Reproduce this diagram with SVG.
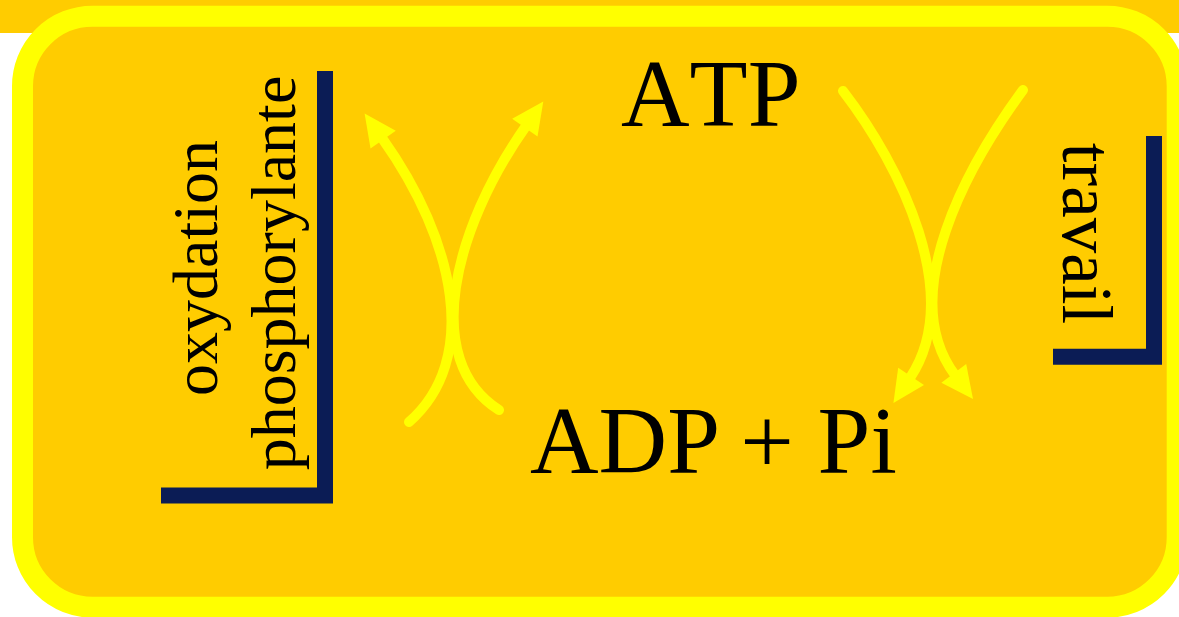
<svg xmlns="http://www.w3.org/2000/svg" width="1179" height="617" viewBox="0 0 1179 617">
<style>
.lbl{font-family:"Liberation Serif","Times New Roman",serif;fill:#000;font-kerning:none;font-feature-settings:"kern" 0}
.kern{font-kerning:normal;font-feature-settings:"kern" 1}
.arc{fill:none;stroke:#ffff00;stroke-width:10;stroke-linecap:round}
.brk{fill:none;stroke:#0b1c55;stroke-width:16;stroke-linejoin:miter}
</style>
<defs>
<marker id="ah" markerUnits="userSpaceOnUse" markerWidth="40" markerHeight="40" refX="2" refY="0" viewBox="0 -20 40 40" orient="auto" overflow="visible">
<path d="M0,-15.5 L32,0 L0,15.5 z" fill="#ffff00"/>
</marker>
</defs>
<rect x="0" y="0" width="1179" height="617" fill="#ffffff"/>
<rect x="0" y="0" width="1179" height="33" fill="#ffcc00"/>
<g id="panel">
<rect x="22.5" y="16.2" width="1154.7" height="591" rx="70" ry="70" fill="#ffcc00" stroke="#ffff00" stroke-width="21"/>
</g>
<g id="atp"><text class="lbl" x="621" y="126" font-size="95">ATP</text></g>
<g id="adp"><text class="lbl kern" x="530" y="473" font-size="95">ADP + Pi</text></g>
<g id="oxydation">
<path class="brk" d="M161,495.5 L325,495.5 L325,71"/>
<text class="lbl" font-size="64" text-anchor="middle" transform="translate(217,268) rotate(-90)">oxydation</text>
<text class="lbl" font-size="64" text-anchor="middle" transform="translate(295,273) rotate(-90)">phosphorylante</text>
</g>
<g id="travail">
<path class="brk" d="M1053,356.7 L1154,356.7 L1154,136"/>
<text class="lbl" font-size="71" text-anchor="middle" transform="translate(1063,233.5) rotate(90)">travail</text>
</g>
<g id="connectors">
<path class="arc" d="M409,422 C480,360 456,242 382,138" marker-end="url(#ah)"/>
<path class="arc" d="M499,410 C420,360 454,228 526,126" marker-end="url(#ah)"/>
<path class="arc" d="M843,91 C900,165 965,295 910,378" marker-end="url(#ah)"/>
<path class="arc" d="M1023,90 C968,165 895,295 955,375" marker-end="url(#ah)"/>
</g>
</svg>
